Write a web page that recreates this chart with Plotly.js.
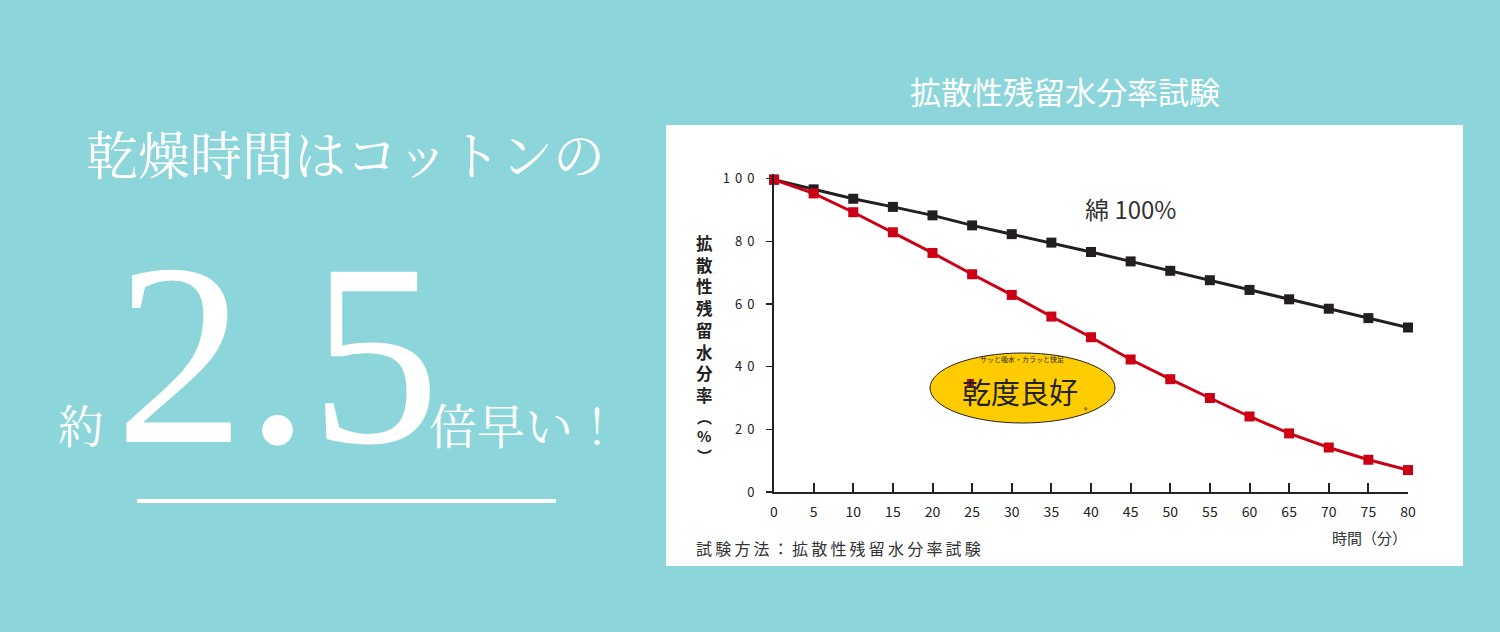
<!DOCTYPE html>
<html>
<head>
<meta charset="utf-8">
<script src="https://cdn.plot.ly/plotly-3.0.1.min.js"></script>
<style>
  html, body { margin: 0; padding: 0; background: #8CD6DB; }
  #chart { width: 1500px; height: 632px; }
</style>
</head>
<body>
<div id="chart"></div>
<script>
// ---- data ----
const timeMinutes = [0, 5, 10, 15, 20, 25, 30, 35, 40, 45, 50, 55, 60, 65, 70, 75, 80];
const cottonValues = [99.7, 96.6, 93.6, 91.0, 88.3, 85.1, 82.3, 79.6, 76.6, 73.6, 70.6, 67.6, 64.5, 61.5, 58.5, 55.5, 52.5];
const kandoValues  = [99.7, 95.3, 89.3, 82.9, 76.3, 69.5, 62.9, 56.0, 49.4, 42.3, 36.0, 30.0, 24.1, 18.7, 14.2, 10.3, 7.0];
const yTickVals = [0, 20, 40, 60, 80, 100];
const yTickText = ['0', '20', '40', '60', '80', '100'];
const xTickVals = [0, 5, 10, 15, 20, 25, 30, 35, 40, 45, 50, 55, 60, 65, 70, 75, 80];
const xTickText = ['0', '5', '10', '15', '20', '25', '30', '35', '40', '45', '50', '55', '60', '65', '70', '75', '80'];
const cottonLabel = '綿 100%';
const chartTitle = '拡散性残留水分率試験';
const yTitleChars = ['拡', '散', '性', '残', '留', '水', '分', '率'];
const yTitleUnit = ['︵', '%', '︶'];
const xTitle = '時間（分）';
const footnote = '試験方法：拡散性残留水分率試験';
const headline = '乾燥時間はコットンの';
const bigNumber = '2.5';
const prefixText = '約';
const suffixText = '倍早い！';
const logoText = '乾度良好';
const logoTagline = 'サッと吸水・カラッと快足';

// ---- layout helpers (pixel -> paper) ----
const M = { l: 774, r: 92, t: 174, b: 140 };
const PW = 1500 - M.l - M.r, PH = 632 - M.t - M.b;
const PX = x => (x - M.l) / PW;
const PY = y => (632 - M.b - y) / PH;

const JP = '"Noto Sans CJK JP", "Noto Sans", sans-serif';
const JPSERIF = '"Noto Serif CJK JP", "Noto Sans CJK JP", serif';
const TEXT = '#333333';

const traces = [
  {
    x: timeMinutes, y: cottonValues, type: 'scatter', mode: 'lines+markers',
    name: cottonLabel, cliponaxis: false,
    line: { color: '#231F20', width: 3 },
    marker: { symbol: 'square', size: 10, color: '#231F20' }
  },
  {
    x: timeMinutes, y: kandoValues, type: 'scatter', mode: 'lines+markers',
    name: logoText, cliponaxis: false,
    line: { color: '#CC0014', width: 3 },
    marker: { symbol: 'square', size: 10, color: '#CC0014' }
  }
];

const annotations = [];
function ann(text, x, y, size, color, extra) {
  annotations.push(Object.assign({
    text: text, xref: 'paper', yref: 'paper', x: PX(x), y: PY(y),
    showarrow: false, xanchor: 'center', yanchor: 'middle',
    font: { family: JP, size: size, color: color }
  }, extra || {}));
}

// chart title
ann(chartTitle, 1065, 91, 31, '#FFFFFF');
// left headline
ann(headline, 345, 153, 52, '#FFFFFF', { font: { family: JPSERIF, size: 52, color: '#FFFFFF' } });
ann(prefixText, 81, 423, 46, '#FFFFFF', { font: { family: JPSERIF, size: 46, color: '#FFFFFF' } });
ann(suffixText, 525, 423, 48, '#FFFFFF', { font: { family: JPSERIF, size: 48, color: '#FFFFFF' } });
ann(bigNumber, 277, 354, 260, '#FFFFFF', { font: { family: '"Liberation Serif", "Times New Roman", serif', size: 260, color: '#FFFFFF' } });
// series label
ann(cottonLabel, 1130, 208, 24, TEXT);
// y title (vertical, one character per annotation)
yTitleChars.forEach((c, i) => {
  ann(c, 704, 243 + 21.7 * i, 16.5, '#222222', { font: { family: JP, size: 16.5, color: '#222222', weight: 700 } });
});
yTitleUnit.forEach((c, i) => {
  ann(c, 704, 416 + 19.5 * i, 15, '#222222', { font: { family: JP, size: 15, color: '#222222', weight: 700 } });
});
// x title
ann(xTitle, 1409, 537, 15, TEXT, { xanchor: 'right' });
// footnote
ann(footnote, 840, 548, 16, TEXT);
// logo
ann(logoTagline, 1022, 359, 7, '#222222');
ann(logoText, 1020, 391, 29, '#222222');
ann('®', 1086, 410, 7, '#222222');

const shapes = [
  // white panel
  { type: 'rect', xref: 'paper', yref: 'paper', x0: PX(666), x1: PX(1463), y0: PY(566), y1: PY(125),
    fillcolor: '#FFFFFF', line: { width: 0 }, layer: 'below' },
  // underline on left
  { type: 'line', xref: 'paper', yref: 'paper', x0: PX(137), x1: PX(556), y0: PY(501), y1: PY(501),
    line: { color: '#FFFFFF', width: 4 } },
  // logo ellipse
  { type: 'circle', xref: 'paper', yref: 'paper', x0: PX(930), x1: PX(1115), y0: PY(423), y1: PY(353),
    fillcolor: '#FFCC00', line: { color: '#222222', width: 1 }, layer: 'above' },
  { type: 'rect', xref: 'paper', yref: 'paper', x0: PX(967), x1: PX(974), y0: PY(386), y1: PY(379),
    fillcolor: '#E00000', line: { width: 0 }, layer: 'above' }
];

const layout = {
  width: 1500, height: 632,
  margin: M,
  paper_bgcolor: '#8CD6DB',
  plot_bgcolor: '#FFFFFF',
  showlegend: false,
  font: { family: JP, color: TEXT },
  xaxis: {
    range: [0, 80], showgrid: false, zeroline: false,
    showline: true, linecolor: '#222222', linewidth: 2,
    ticks: 'inside', ticklen: 9, tickwidth: 2, tickcolor: '#222222',
    tickvals: xTickVals, ticktext: xTickText, ticklabelstandoff: 6,
    tickfont: { family: JP, size: 14, color: '#222222' }
  },
  yaxis: {
    range: [0, 101.5], showgrid: false, zeroline: false,
    showline: true, linecolor: '#222222', linewidth: 2,
    ticks: 'outside', ticklen: 6, tickwidth: 1.5, tickcolor: '#222222',
    tickvals: yTickVals, ticktext: yTickText, ticklabelstandoff: 4,
    tickfont: { family: JP, size: 13, color: '#222222' }
  },
  annotations: annotations,
  shapes: shapes
};

Plotly.newPlot('chart', traces, layout, { staticPlot: true }).then(() => {
  document.querySelectorAll('.ytick text').forEach(t => { t.style.letterSpacing = '5px'; });
  document.querySelectorAll('.annotation-text').forEach(t => {
    if (t.textContent === footnote) t.style.letterSpacing = '3.2px';
  });
});
</script>
</body>
</html>
